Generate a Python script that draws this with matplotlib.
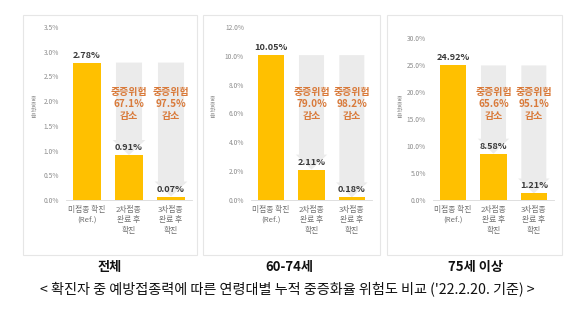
import matplotlib
matplotlib.use("Agg")
import matplotlib.pyplot as plt
from matplotlib.patches import Rectangle, FancyArrow
from matplotlib.transforms import blended_transform_factory

plt.rcParams['font.family'] = ['Noto Sans CJK KR', 'DejaVu Sans']

# Data
categories = ["미접종 확진\n(Ref.)", "2차접종\n완료 후\n확진", "3차접종\n완료 후\n확진"]
group_titles = ["전체", "60-74세", "75세 이상"]
rates_all = [2.78, 0.91, 0.07]
rates_6074 = [10.05, 2.11, 0.18]
rates_75 = [24.92, 8.58, 1.21]
reductions_all = [67.1, 97.5]
reductions_6074 = [79.0, 98.2]
reductions_75 = [65.6, 95.1]
y_max = [3.5, 12.0, 30.0]
y_step = [0.5, 2.0, 5.0]
caption = "< 확진자 중 예방접종력에 따른 연령대별 누적 중증화율 위험도 비교 ('22.2.20. 기준) >"

series = [rates_all, rates_6074, rates_75]
reductions = [reductions_all, reductions_6074, reductions_75]

W, H = 570, 324
fig = plt.figure(figsize=(W / 100, H / 100), dpi=100)
fig.patch.set_facecolor("white")

BAR = "#FFC000"
ORANGE = "#D97A3A"
ARROW = "#EBEBEB"
TICK = "#8C8C8C"

# panel frames (pixel boxes: left, right) and axes boxes (left, right, top)
frames = [(23, 197), (203, 380), (387, 562)]
axes_boxes = [(66, 192, 27), (251, 372, 27), (433, 554, 38)]
ylabel_x = [33, 212, 399]
frame_top, frame_bottom = 15, 255
axis_bottom = 200

for i in range(3):
    fl, fr = frames[i]
    fig.add_artist(Rectangle((fl / W, 1 - frame_bottom / H), (fr - fl) / W,
                             (frame_bottom - frame_top) / H, transform=fig.transFigure,
                             facecolor="none", edgecolor="#E6E6E6", linewidth=0.8,
                             zorder=-1))

    al, ar, at = axes_boxes[i]
    ax = fig.add_axes([al / W, 1 - axis_bottom / H, (ar - al) / W, (axis_bottom - at) / H])
    ax.set_facecolor("none")
    vals = series[i]
    ymax = y_max[i]
    ax.set_xlim(-0.5, 2.5)
    ax.set_ylim(0, ymax)
    px_per_unit = (axis_bottom - at) / ymax

    # reduction arrows behind the vaccinated bars
    for j in (1, 2):
        head = 15 / px_per_unit
        arr = FancyArrow(j, vals[0], 0, vals[j] - vals[0], width=0.62, head_width=0.78,
                         head_length=head, length_includes_head=True,
                         facecolor=ARROW, edgecolor="none", zorder=1)
        ax.add_patch(arr)

    ax.bar(range(3), vals, width=0.66, color=BAR, zorder=2)

    for j, v in enumerate(vals):
        ax.text(j, v + 3 / px_per_unit, f"{v:.2f}%", ha="center", va="bottom",
                fontsize=6.6, fontweight="bold", color="#3A3A3A", zorder=4)

    trans = blended_transform_factory(ax.transData, fig.transFigure)
    for k, r in enumerate(reductions[i]):
        ax.text(k + 1, 1 - 104 / H, f"중증위험\n{r:.1f}%\n감소", transform=trans,
                ha="center", va="center", fontsize=7.2, fontweight="bold",
                color=ORANGE, linespacing=1.3, zorder=5)

    ticks = [y_step[i] * n for n in range(int(round(ymax / y_step[i])) + 1)]
    ax.set_yticks(ticks)
    ax.set_yticklabels([f"{t:.1f}%" for t in ticks])
    ax.set_xticks(range(3))
    ax.set_xticklabels(categories)
    ax.tick_params(axis="y", length=0, labelsize=4.8, labelcolor=TICK, pad=5)
    ax.tick_params(axis="x", length=0, labelsize=5.6, labelcolor="#707070", pad=4)
    for lab in ax.get_xticklabels():
        lab.set_linespacing(1.45)
    for s in ("top", "right", "left"):
        ax.spines[s].set_visible(False)
    ax.spines["bottom"].set_color("#D9D9D9")
    ax.spines["bottom"].set_linewidth(0.6)

    fig.text(ylabel_x[i] / W, 1 - 108 / H, "중\n증\n화\n율", ha="center", va="center",
             fontsize=4.2, color="#9A9A9A", linespacing=1.1)

# group titles and caption
title_x = [110, 289, 476]
for x, t in zip(title_x, group_titles):
    fig.text(x / W, 1 - 267 / H, t, ha="center", va="center", fontsize=9.5,
             fontweight="bold", color="#111111")
fig.text(287 / W, 1 - 289 / H, caption, ha="center", va="center", fontsize=10.2,
         color="#111111")

fig.savefig("out.png", dpi=100, facecolor="white")
